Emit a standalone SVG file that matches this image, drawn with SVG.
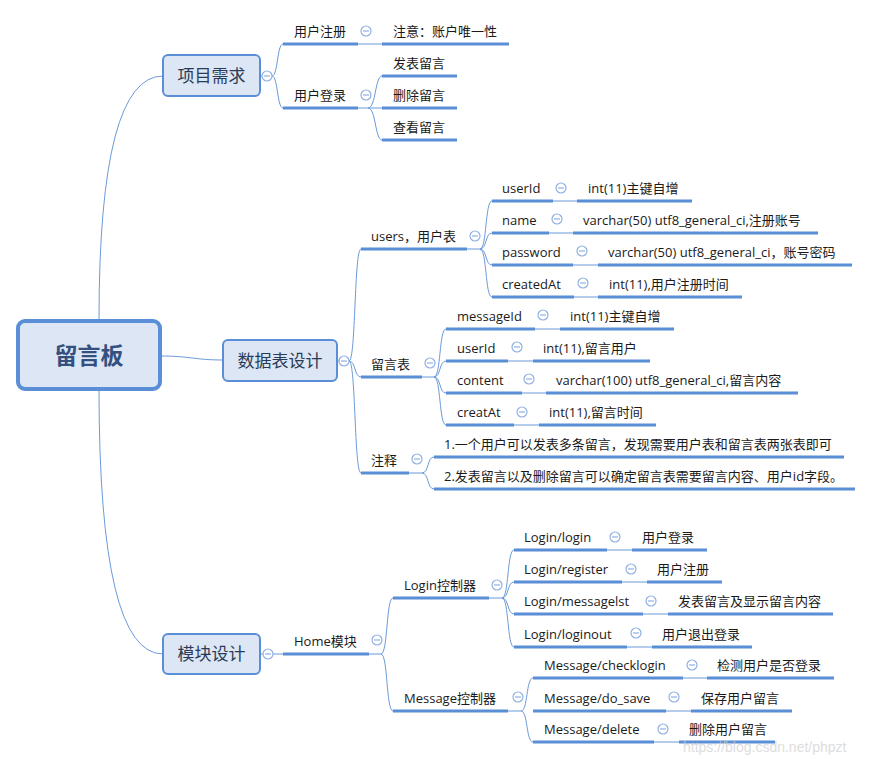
<svg xmlns="http://www.w3.org/2000/svg" width="873" height="759" viewBox="0 0 873 759">
<style>
.ul{stroke:#5a8ed6;stroke-width:3;fill:none}
.ln{stroke:#6b9ad9;stroke-width:1;fill:none}
.cc{fill:#fff;stroke:#8fb0e3;stroke-width:1.2}
.cm{stroke:#8fb0e3;stroke-width:1.2}
.t{font-family:"Open Sans","Noto Sans CJK SC",sans-serif;font-size:13px;fill:#1a1a1a}
.box{fill:#dce6f4;stroke:#5a8ed6;stroke-width:2}
.bt{font-family:"Noto Sans CJK SC",sans-serif;font-size:17px;fill:#2a3b57;text-anchor:middle}
.rt{font-family:"Noto Sans CJK SC",sans-serif;font-size:23px;font-weight:bold;fill:#33507f;text-anchor:middle}
.wm{font-family:"Liberation Sans",sans-serif;font-size:14px;fill:#cfcfcf;opacity:0.7}
</style>
<defs>
<g id="col"><circle class="cc" cx="0" cy="0" r="5"/><line class="cm" x1="-3" y1="0" x2="3" y2="0"/></g>
</defs>
<g id="connectors">
<path class="ln" d="M99 320 Q99 76 163 76"/>
<path class="ln" d="M99 389 Q99 654 163 654"/>
<path class="ln" d="M160 356 C190 356 195 360 223 360"/>
<path class="ln" d="M260 76 L272 76"/>
<path class="ln" d="M272 76 C278 76 277 44 283 44"/>
<path class="ln" d="M272 76 C278 76 277 108 283 108"/>
<path class="ln" d="M358 44 L382 44"/>
<path class="ln" d="M358 108 L382 108"/>
<path class="ln" d="M368 108 C376 108 375 76 382 76"/>
<path class="ln" d="M368 108 C376 108 375 140 382 140"/>
<path class="ln" d="M337 361 L349 361"/>
<path class="ln" d="M349 361 C356 361 354 249 361 249"/>
<path class="ln" d="M349 361 C356 361 354 377 361 377"/>
<path class="ln" d="M349 361 C356 361 354 473 361 473"/>
<path class="ln" d="M467 249 L480 249"/>
<path class="ln" d="M480 249 C487 249 485 201 492 201"/>
<path class="ln" d="M480 249 C487 249 485 233 492 233"/>
<path class="ln" d="M480 249 C487 249 485 265 492 265"/>
<path class="ln" d="M480 249 C487 249 485 297 492 297"/>
<path class="ln" d="M553 201 L577 201"/>
<path class="ln" d="M549 233 L573 233"/>
<path class="ln" d="M573 265 L598 265"/>
<path class="ln" d="M574 297 L598 297"/>
<path class="ln" d="M422 377 L434 377"/>
<path class="ln" d="M434 377 C441 377 439 329 446 329"/>
<path class="ln" d="M434 377 C441 377 439 361 446 361"/>
<path class="ln" d="M434 377 C441 377 439 393 446 393"/>
<path class="ln" d="M434 377 C441 377 439 425 446 425"/>
<path class="ln" d="M535 329 L560 329"/>
<path class="ln" d="M508 361 L533 361"/>
<path class="ln" d="M522 393 L546 393"/>
<path class="ln" d="M514 425 L539 425"/>
<path class="ln" d="M409 473 L422 473"/>
<path class="ln" d="M422 473 C429 473 427 457 434 457"/>
<path class="ln" d="M422 473 C429 473 427 489 434 489"/>
<path class="ln" d="M260 654 L283 654"/>
<path class="ln" d="M369 654 L381 654"/>
<path class="ln" d="M381 654 C388 654 386 598 393 598"/>
<path class="ln" d="M381 654 C388 654 386 711 393 711"/>
<path class="ln" d="M489 598 L502 598"/>
<path class="ln" d="M502 598 C509 598 507 550 514 550"/>
<path class="ln" d="M502 598 C509 598 507 582 514 582"/>
<path class="ln" d="M502 598 C509 598 507 614 514 614"/>
<path class="ln" d="M502 598 C509 598 507 647 514 647"/>
<path class="ln" d="M607 550 L632 550"/>
<path class="ln" d="M622 582 L647 582"/>
<path class="ln" d="M643 614 L668 614"/>
<path class="ln" d="M627 647 L652 647"/>
<path class="ln" d="M508 711 L521 711"/>
<path class="ln" d="M521 711 C528 711 526 678 533 678"/>
<path class="ln" d="M521 711 C528 711 526 742 533 742"/>
<path class="ln" d="M683 678 L707 678"/>
<path class="ln" d="M666 711 L691 711"/>
<path class="ln" d="M654 742 L679 742"/>
</g>
<g id="root"><rect x="18" y="321" width="142" height="68" rx="7" fill="#dce6f4" stroke="#5a8ed6" stroke-width="4"/><text class="rt" x="89" y="364">留言板</text></g>
<g id="n-req"><rect class="box" x="163" y="55" width="97" height="41" rx="5"/><text class="bt" x="211.5" y="82">项目需求</text><use href="#col" x="267" y="76"/></g>
<g id="n-reg"><line class="ul" x1="283" y1="44" x2="358" y2="44"/><text class="t" x="294" y="36">用户注册</text><use href="#col" x="366" y="31"/></g>
<g id="n-reg1"><line class="ul" x1="382" y1="44" x2="509" y2="44"/><text class="t" x="393" y="36">注意：账户唯一性</text></g>
<g id="n-login"><line class="ul" x1="283" y1="108" x2="358" y2="108"/><text class="t" x="294" y="100">用户登录</text><use href="#col" x="366" y="95"/></g>
<g id="n-l1"><line class="ul" x1="382" y1="76" x2="457" y2="76"/><text class="t" x="393" y="68">发表留言</text></g>
<g id="n-l2"><line class="ul" x1="382" y1="108" x2="457" y2="108"/><text class="t" x="393" y="100">删除留言</text></g>
<g id="n-l3"><line class="ul" x1="382" y1="140" x2="457" y2="140"/><text class="t" x="393" y="132">查看留言</text></g>
<g id="n-db"><rect class="box" x="223" y="340" width="114" height="41" rx="5"/><text class="bt" x="280" y="367">数据表设计</text><use href="#col" x="344" y="361"/></g>
<g id="n-users"><line class="ul" x1="361" y1="249" x2="467" y2="249"/><text class="t" x="371" y="241">users，用户表</text><use href="#col" x="475" y="236"/></g>
<g id="n-u1"><line class="ul" x1="492" y1="201" x2="553" y2="201"/><text class="t" x="502" y="193">userId</text><use href="#col" x="561" y="188"/></g>
<g id="n-u1v"><line class="ul" x1="577" y1="201" x2="692" y2="201"/><text class="t" x="588" y="193">int(11)主键自增</text></g>
<g id="n-u2"><line class="ul" x1="492" y1="233" x2="549" y2="233"/><text class="t" x="502" y="225">name</text><use href="#col" x="557" y="219"/></g>
<g id="n-u2v"><line class="ul" x1="573" y1="233" x2="818" y2="233"/><text class="t" x="583" y="225">varchar(50) utf8_general_ci,注册账号</text></g>
<g id="n-u3"><line class="ul" x1="492" y1="265" x2="573" y2="265"/><text class="t" x="502" y="257">password</text><use href="#col" x="582" y="251"/></g>
<g id="n-u3v"><line class="ul" x1="598" y1="265" x2="852" y2="265"/><text class="t" x="608" y="257">varchar(50) utf8_general_ci，账号密码</text></g>
<g id="n-u4"><line class="ul" x1="492" y1="297" x2="574" y2="297"/><text class="t" x="502" y="289">createdAt</text><use href="#col" x="583" y="283"/></g>
<g id="n-u4v"><line class="ul" x1="598" y1="297" x2="742" y2="297"/><text class="t" x="609" y="289">int(11),用户注册时间</text></g>
<g id="n-msg"><line class="ul" x1="361" y1="377" x2="422" y2="377"/><text class="t" x="371" y="369">留言表</text><use href="#col" x="430" y="363"/></g>
<g id="n-m1"><line class="ul" x1="446" y1="329" x2="535" y2="329"/><text class="t" x="457" y="321">messageId</text><use href="#col" x="543" y="315"/></g>
<g id="n-m1v"><line class="ul" x1="560" y1="329" x2="674" y2="329"/><text class="t" x="570" y="321">int(11)主键自增</text></g>
<g id="n-m2"><line class="ul" x1="446" y1="361" x2="508" y2="361"/><text class="t" x="457" y="353">userId</text><use href="#col" x="517" y="347"/></g>
<g id="n-m2v"><line class="ul" x1="533" y1="361" x2="650" y2="361"/><text class="t" x="543" y="353">int(11),留言用户</text></g>
<g id="n-m3"><line class="ul" x1="446" y1="393" x2="522" y2="393"/><text class="t" x="457" y="385">content</text><use href="#col" x="529" y="379"/></g>
<g id="n-m3v"><line class="ul" x1="546" y1="393" x2="798" y2="393"/><text class="t" x="556" y="385">varchar(100) utf8_general_ci,留言内容</text></g>
<g id="n-m4"><line class="ul" x1="446" y1="425" x2="514" y2="425"/><text class="t" x="457" y="417">creatAt</text><use href="#col" x="522" y="412"/></g>
<g id="n-m4v"><line class="ul" x1="539" y1="425" x2="656" y2="425"/><text class="t" x="549" y="417">int(11),留言时间</text></g>
<g id="n-note"><line class="ul" x1="361" y1="473" x2="409" y2="473"/><text class="t" x="371" y="465">注释</text><use href="#col" x="417" y="459"/></g>
<g id="n-note1"><line class="ul" x1="434" y1="457" x2="844" y2="457"/><text class="t" x="444" y="449">1.一个用户可以发表多条留言，发现需要用户表和留言表两张表即可</text></g>
<g id="n-note2"><line class="ul" x1="434" y1="489" x2="855" y2="489"/><text class="t" x="444" y="481">2.发表留言以及删除留言可以确定留言表需要留言内容、用户id字段。</text></g>
<g id="n-mod"><rect class="box" x="163" y="634" width="97" height="40" rx="5"/><text class="bt" x="211.5" y="660">模块设计</text><use href="#col" x="268" y="654"/></g>
<g id="n-home"><line class="ul" x1="283" y1="654" x2="369" y2="654"/><text class="t" x="294" y="646">Home模块</text><use href="#col" x="377" y="640"/></g>
<g id="n-lc"><line class="ul" x1="393" y1="598" x2="489" y2="598"/><text class="t" x="404" y="590">Login控制器</text><use href="#col" x="497" y="585"/></g>
<g id="n-lc1"><line class="ul" x1="514" y1="550" x2="607" y2="550"/><text class="t" x="524" y="542">Login/login</text><use href="#col" x="615" y="537"/></g>
<g id="n-lc1v"><line class="ul" x1="632" y1="550" x2="707" y2="550"/><text class="t" x="642" y="542">用户登录</text></g>
<g id="n-lc2"><line class="ul" x1="514" y1="582" x2="622" y2="582"/><text class="t" x="524" y="574">Login/register</text><use href="#col" x="631" y="569"/></g>
<g id="n-lc2v"><line class="ul" x1="647" y1="582" x2="722" y2="582"/><text class="t" x="657" y="574">用户注册</text></g>
<g id="n-lc3"><line class="ul" x1="514" y1="614" x2="643" y2="614"/><text class="t" x="524" y="606">Login/messagelst</text><use href="#col" x="651" y="601"/></g>
<g id="n-lc3v"><line class="ul" x1="668" y1="614" x2="833" y2="614"/><text class="t" x="678" y="606">发表留言及显示留言内容</text></g>
<g id="n-lc4"><line class="ul" x1="514" y1="647" x2="627" y2="647"/><text class="t" x="524" y="639">Login/loginout</text><use href="#col" x="636" y="633"/></g>
<g id="n-lc4v"><line class="ul" x1="652" y1="647" x2="752" y2="647"/><text class="t" x="662" y="639">用户退出登录</text></g>
<g id="n-mc"><line class="ul" x1="393" y1="711" x2="508" y2="711"/><text class="t" x="404" y="703">Message控制器</text><use href="#col" x="518" y="697"/></g>
<g id="n-mc1"><line class="ul" x1="533" y1="678" x2="683" y2="678"/><text class="t" x="544" y="670">Message/checklogin</text><use href="#col" x="692" y="665"/></g>
<g id="n-mc1v"><line class="ul" x1="707" y1="678" x2="834" y2="678"/><text class="t" x="717" y="670">检测用户是否登录</text></g>
<g id="n-mc2"><line class="ul" x1="533" y1="711" x2="666" y2="711"/><text class="t" x="544" y="703">Message/do_save</text><use href="#col" x="674" y="697"/></g>
<g id="n-mc2v"><line class="ul" x1="691" y1="711" x2="792" y2="711"/><text class="t" x="701" y="703">保存用户留言</text></g>
<g id="n-mc3"><line class="ul" x1="533" y1="742" x2="654" y2="742"/><text class="t" x="544" y="734">Message/delete</text><use href="#col" x="663" y="729"/></g>
<g id="n-mc3v"><line class="ul" x1="679" y1="742" x2="775" y2="742"/><text class="t" x="689" y="734">删除用户留言</text></g>
<text class="wm" x="683" y="752">https://blog.csdn.net/phpzt</text>
</svg>
